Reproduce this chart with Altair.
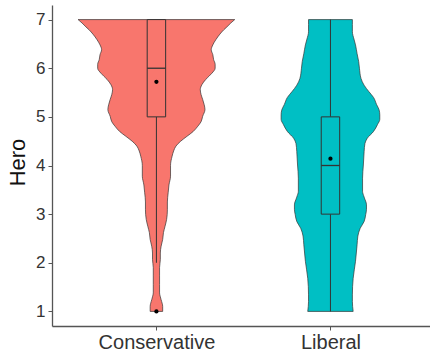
import altair as alt
import pandas as pd

# Groups and fill colours
groups = ["Conservative", "Liberal"]
fills = ["#F8766D", "#00BFC4"]

# Violin outlines: Hero score vs. relative density (1 = widest point)
cons_y = [7.0, 6.93, 6.85, 6.79, 6.7, 6.59, 6.48, 6.38, 6.28, 6.18, 6.08, 6.0,
          5.9, 5.77, 5.66, 5.56, 5.46, 5.36, 5.25, 5.15, 5.01, 4.9, 4.81, 4.7,
          4.6, 4.5, 4.4, 4.3, 4.19, 4.0, 3.78, 3.6, 3.44, 3.25, 3.09, 2.89,
          2.75, 2.62, 2.48, 2.34, 2.2, 2.07, 1.9, 1.73, 1.55, 1.38, 1.3, 1.24,
          1.1, 1.0]
cons_w = [1.00, 0.95, 0.90, 0.86, 0.81, 0.76, 0.72, 0.70, 0.72, 0.73, 0.75, 0.75,
          0.71, 0.63, 0.58, 0.56, 0.57, 0.59, 0.61, 0.62, 0.59, 0.57, 0.53, 0.47,
          0.39, 0.31, 0.25, 0.22, 0.20, 0.18, 0.18, 0.16, 0.15, 0.14, 0.14, 0.13,
          0.11, 0.09, 0.08, 0.06, 0.05, 0.05, 0.04, 0.04, 0.04, 0.04, 0.05, 0.06,
          0.08, 0.08]

lib_y = [7.0, 6.9, 6.75, 6.6, 6.48, 6.3, 6.14, 6.0, 5.79, 5.65, 5.52, 5.4,
         5.25, 5.15, 5.04, 4.95, 4.84, 4.7, 4.56, 4.45, 4.29, 4.01, 3.74, 3.47,
         3.35, 3.19, 3.1, 2.99, 2.85, 2.71, 2.55, 2.37, 2.03, 1.68, 1.34, 1.2,
         1.0]
lib_w = [0.28, 0.28, 0.28, 0.30, 0.32, 0.34, 0.36, 0.37, 0.39, 0.43, 0.49, 0.55,
         0.59, 0.62, 0.63, 0.63, 0.60, 0.55, 0.47, 0.44, 0.43, 0.42, 0.41, 0.41,
         0.43, 0.46, 0.46, 0.45, 0.43, 0.38, 0.35, 0.34, 0.32, 0.29, 0.28, 0.28,
         0.29]

# Box-plot summaries
q1 = [5, 3]
median = [6, 4]
q3 = [7, 5]
whisker_lo = [2, 1]
whisker_hi = [7, 7]
means = [5.72, 4.14]
outlier_group = ["Conservative"]
outlier_y = [1]

HALF = 0.45   # half of the violin width at maximum density
BOX = 0.053   # half of the box width

pos = {g: i + 1 for i, g in enumerate(groups)}

rows = []
for g, ys, ws in [("Conservative", cons_y, cons_w), ("Liberal", lib_y, lib_w)]:
    for y, w in zip(ys, ws):
        rows.append({"group": g, "y": y,
                     "left": pos[g] - HALF * w, "right": pos[g] + HALF * w})
vdf = pd.DataFrame(rows).sort_values(["group", "y"])

bdf = pd.DataFrame({
    "group": groups,
    "pos": [pos[g] for g in groups],
    "bl": [pos[g] - BOX for g in groups],
    "br": [pos[g] + BOX for g in groups],
    "q1": q1, "median": median, "q3": q3,
    "lo": whisker_lo, "hi": whisker_hi, "mean": means,
})
odf = pd.DataFrame({"pos": [pos[g] for g in outlier_group], "y": outlier_y})

FONT = "Liberation Sans"
INK = "#333333"

yscale = alt.Scale(domain=[0.7, 7.3], nice=False, zero=False)
xscale = alt.Scale(domain=[0.4, 2.572], nice=False, zero=False)
cscale = alt.Scale(domain=groups, range=fills)

label_map = " : ".join(
    [f"datum.value == {pos[g]} ? '{g}'" for g in groups[:-1]] + [f"'{groups[-1]}'"]
)

yaxis = alt.Axis(values=[1, 2, 3, 4, 5, 6, 7], format="d", title="Hero",
                 grid=False, tickSize=4, labelPadding=3, labelFontSize=17,
                 labelColor=INK, titleFontSize=22, titleFontWeight="normal",
                 titleColor="#111111", titleAngle=270, titleX=-35, titleY=157,
                 titleAlign="center", titleBaseline="middle", titleFont=FONT,
                 labelFont=FONT, domainColor="#555555", tickColor="#555555",
                 domainWidth=1.3, tickWidth=1)
xaxis = alt.Axis(values=[1, 2], labelExpr=label_map, title="", grid=False,
                 tickSize=4, labelPadding=2, labelFontSize=20, labelColor=INK,
                 labelFont=FONT, domainColor="#555555", tickColor="#555555",
                 domainWidth=1.3, tickWidth=1)


def X(field):
    return alt.X(field, scale=xscale, axis=xaxis)


def Y(field):
    return alt.Y(field, scale=yscale, axis=yaxis)


violin = alt.Chart(vdf).mark_area(orient="horizontal", interpolate="monotone",
                                  stroke=INK, strokeWidth=0.7, opacity=1).encode(
    y=Y("y:Q"),
    x=alt.X("left:Q", scale=xscale, axis=xaxis, stack=False),
    x2="right:Q",
    color=alt.Color("group:N", scale=cscale, legend=None),
)

box = alt.Chart(bdf).mark_rect(stroke=INK, strokeWidth=1).encode(
    x=X("bl:Q"),
    x2="br:Q",
    y=Y("q1:Q"),
    y2="q3:Q",
    color=alt.Color("group:N", scale=cscale, legend=None),
)

med = alt.Chart(bdf).mark_rule(color=INK, strokeWidth=1.3).encode(
    x=X("bl:Q"),
    x2="br:Q",
    y=Y("median:Q"),
)

lower = alt.Chart(bdf).mark_rule(color=INK, strokeWidth=1).encode(
    x=X("pos:Q"),
    y=Y("lo:Q"),
    y2="q1:Q",
)

upper = alt.Chart(bdf).mark_rule(color=INK, strokeWidth=1).encode(
    x=X("pos:Q"),
    y=Y("q3:Q"),
    y2="hi:Q",
)

mean_pt = alt.Chart(bdf).mark_point(filled=True, color="#000000", size=18,
                                    opacity=1).encode(
    x=X("pos:Q"),
    y=Y("mean:Q"),
)

out_pt = alt.Chart(odf).mark_point(filled=True, color="#000000", size=18,
                                   opacity=1).encode(
    x=X("pos:Q"),
    y=Y("y:Q"),
)

chart = alt.layer(violin, lower, upper, box, med, mean_pt, out_pt).properties(
    width=378, height=321,
    autosize=alt.AutoSizeParams(type="none"),
    padding={"left": 52, "top": 5, "right": 0, "bottom": 28},
    background="#ffffff",
).configure_view(stroke=None)

chart.save("out.html", embed_options={"renderer": "svg", "actions": False})
